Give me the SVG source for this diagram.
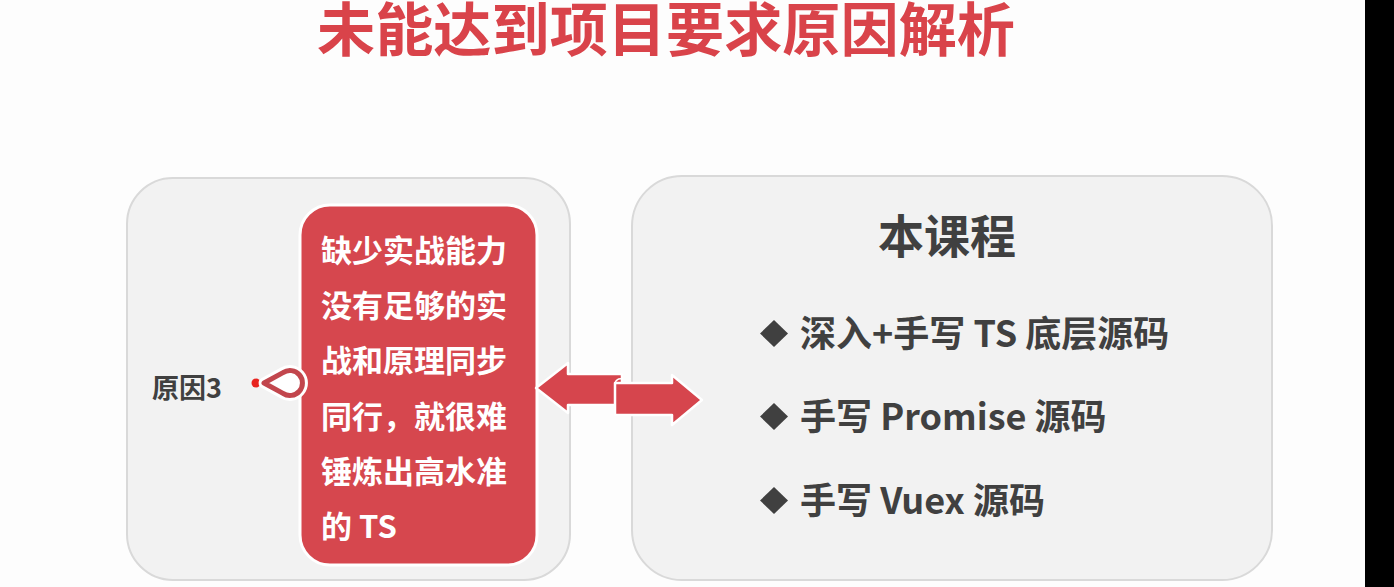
<svg xmlns="http://www.w3.org/2000/svg" width="1394" height="587" viewBox="0 0 1394 587">
<style>
.cjk{font-family:"Noto Sans CJK SC","Liberation Sans",sans-serif;font-weight:700}
.dark{fill:#404040}
.box{fill:#f2f2f2;stroke:#d9d9d9;stroke-width:2}
.arrow{fill:#d6454d;stroke:#ffffff;stroke-width:2.5;stroke-linejoin:round}
</style>
<rect x="0" y="0" width="1394" height="587" fill="#fdfdfd"/>
<rect x="1365" y="0" width="29" height="587" fill="#000000"/>
<g id="title">
<text class="cjk" x="666" y="51" font-size="58" font-weight="900" fill="#d9434a" text-anchor="middle" textLength="698" lengthAdjust="spacingAndGlyphs">未能达到项目要求原因解析</text>
</g>
<g id="left-panel">
<rect class="box" x="127" y="178" width="443" height="402" rx="46"/>
</g>
<g id="right-panel">
<rect class="box" x="632" y="176" width="640" height="404" rx="50"/>
<text class="cjk dark" x="947" y="253" font-size="46" text-anchor="middle">本课程</text>
<polygon class="dark" points="774,320 788,333.5 774,347 760,333.5"/>
<text class="cjk dark" x="800" y="347" font-size="36">深入+手写 TS 底层源码</text>
<polygon class="dark" points="774,403 788,416.5 774,430 760,416.5"/>
<text class="cjk dark" x="800" y="430" font-size="36">手写 Promise 源码</text>
<polygon class="dark" points="774,487 788,500.5 774,514 760,500.5"/>
<text class="cjk dark" x="800" y="514" font-size="36">手写 Vuex 源码</text>
</g>
<g id="reason-box">
<rect x="300" y="205" width="237" height="360" rx="30" fill="#d6474e" stroke="#ffffff" stroke-width="3"/>
<g class="cjk" font-size="31" fill="#ffffff">
<text x="321" y="262">缺少实战能力</text>
<text x="321" y="317">没有足够的实</text>
<text x="321" y="372">战和原理同步</text>
<text x="321" y="428">同行，就很难</text>
<text x="321" y="483">锤炼出高水准</text>
<text x="321" y="538">的 TS</text>
</g>
</g>
<g id="reason-label">
<text class="cjk dark" x="152" y="398" font-size="27">原因3</text>
<circle cx="256" cy="383" r="4.5" fill="#e8231f"/>
<path d="M264,383 L283,372.6 A12.5,12.5 0 1 1 283,393.4 Z" fill="#ffffff" stroke="#ffffff" stroke-width="11" stroke-linejoin="round"/>
<path d="M264,383 L283,372.6 A12.5,12.5 0 1 1 283,393.4 Z" fill="#ffffff" stroke="#c2464d" stroke-width="5" stroke-linejoin="round"/>
</g>
<g id="connectors">
<polygon class="arrow" points="536,388 568,363 568,374 622,374 622,405 568,405 568,413"/>
<polygon class="arrow" points="615,383 672,383 672,375 702,400 672,425 672,415 615,415"/>
<path d="M615,383 q2,-5 7,-4" fill="none" stroke="#ffffff" stroke-width="1.5"/>
</g>
</svg>
